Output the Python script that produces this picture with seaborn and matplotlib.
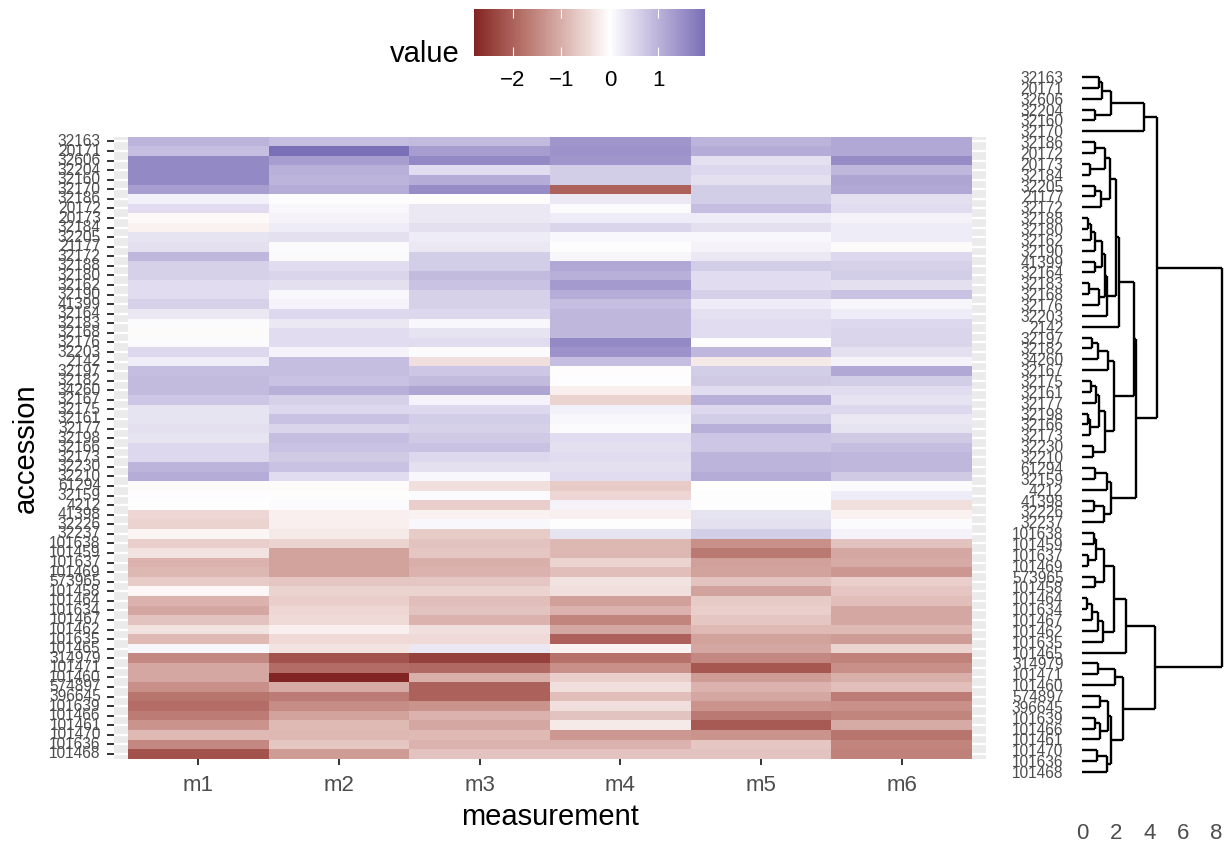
import numpy as np
import pandas as pd
import matplotlib
matplotlib.use("Agg")
import matplotlib.pyplot as plt
import seaborn as sns

plt.rcParams["font.family"] = ["Liberation Sans", "DejaVu Sans"]

# ---------------------------------------------------------------- data
accessions = [
    "32163", "20171", "32606", "32204", "32160", "32170", "32186", "20172",
    "20173", "32184", "32205", "21177", "32172", "32188", "32180", "32162",
    "32190", "41399", "32164", "32183", "32168", "32176", "32203", "2142",
    "32197", "32182", "34260", "32167", "32175", "32161", "32177", "32198",
    "32166", "32173", "32230", "32210", "61294", "32159", "4212", "41398",
    "32226", "32237", "101638", "101459", "101637", "101469", "573965",
    "101458", "101464", "101634", "101467", "101462", "101635", "101465",
    "314979", "101471", "101460", "574897", "396645", "101639", "101466",
    "101461", "101470", "101636", "101468",
]
measurements = ["m1", "m2", "m3", "m4", "m5", "m6"]

m1 = [1.0, 0.85, 1.6, 1.6, 1.6, 1.3, 0.2, 0.45, -0.08, -0.15,
      0.35, 0.4, 0.95, 0.6, 0.6, 0.45, 0.45, 0.6, 0.3, 0.05,
      -0.05, 0.05, 0.5, 0.25, 0.85, 0.9, 0.9, 0.75, 0.35, 0.35,
      0.4, 0.35, 0.5, 0.5, 1.0, 1.1, -0.05, 0.03, 0.01, -0.5,
      -0.55, -0.12, -0.6, -0.35, -0.95, -0.9, -0.65, -0.1, -0.95, -1.1,
      -0.75, -0.35, -0.85, 0.12, -1.5, -1.1, -1.1, -1.4, -1.75, -1.85,
      -1.65, -1.35, -0.85, -1.5, -2.2]
m2 = [0.85, 1.96, 1.3, 1.05, 1.0, 1.1, 0.02, 0.1, 0.15, 0.25,
      0.4, 0.05, 0.08, 0.45, 0.55, 0.4, 0.1, 0.15, 0.5, 0.3,
      0.45, 0.45, 0.15, 0.85, 0.85, 0.8, 1.05, 0.6, 0.5, 0.8,
      0.55, 0.85, 0.8, 0.7, 0.8, 0.45, -0.05, 0.02, 0.05, -0.2,
      -0.2, -0.25, -0.55, -1.15, -1.15, -1.15, -0.7, -0.55, -0.6, -0.5,
      -0.45, -0.2, -0.45, -0.35, -2.2, -1.85, -2.8, -1.05, -1.65, -1.45,
      -1.15, -0.85, -0.9, -0.7, -1.25]
m3 = [0.9, 1.3, 1.6, 0.45, 1.1, 1.55, -0.03, 0.3, 0.3, 0.4,
      0.25, 0.3, 0.65, 0.65, 0.9, 0.8, 0.6, 0.6, 0.5, 0.1,
      0.35, 0.45, 0.05, -0.4, 0.75, 0.9, 1.2, 0.15, 0.5, 0.65,
      0.6, 0.7, 0.8, 0.5, 0.4, 0.1, -0.4, 0.05, -0.6, -0.15,
      0.1, -0.65, -0.75, -0.7, -1.0, -0.95, -0.7, -0.55, -0.8, -0.75,
      -0.95, -0.4, -0.45, 0.3, -2.45, -1.9, -1.0, -2.0, -2.0, -1.35,
      -0.95, -1.1, -0.85, -0.95, -0.75]
m4 = [1.4, 1.45, 1.4, 0.65, 0.65, -2.0, 0.3, 0.05, 0.25, 0.55,
      0.1, 0.02, 0.12, 1.15, 1.05, 1.35, 1.1, 0.85, 0.95, 0.95,
      0.95, 1.6, 1.45, 0.85, -0.03, 0.03, -0.2, -0.55, 0.2, 0.1,
      0.07, 0.45, 0.4, 0.45, 0.4, 0.45, -0.65, -0.5, 0.15, -0.2,
      -0.02, 0.35, -0.9, -0.9, -0.55, -0.8, -0.35, -0.4, -1.2, -0.95,
      -1.55, -1.1, -2.0, -0.15, -1.8, -1.4, -0.6, -0.4, -0.8, -0.4,
      -0.75, -0.25, -1.3, -0.95, -0.75]
m5 = [1.0, 1.1, 0.4, 0.5, 0.4, 0.65, 0.65, 0.85, 0.25, 0.4,
      0.1, 0.15, 0.3, 0.65, 0.45, 0.45, 0.6, 0.25, 0.4, 0.45,
      0.45, 0.03, 0.95, -0.25, 0.65, 0.7, 0.45, 1.05, 0.5, 0.65,
      1.05, 0.75, 0.75, 1.0, 1.0, 1.1, 0.0, 0.02, -0.02, 0.35,
      0.4, 0.65, -1.4, -1.7, -1.2, -1.15, -0.75, -1.15, -0.65, -0.6,
      -0.7, -0.85, -1.15, -1.1, -1.5, -2.15, -1.25, -0.95, -1.1, -1.35,
      -1.7, -2.1, -1.35, -0.7, -0.75]
m6 = [1.15, 1.15, 1.55, 0.95, 1.2, 1.15, 0.4, 0.45, 0.15, 0.25,
      0.25, -0.05, 0.5, 0.6, 0.65, 0.4, 0.8, 0.12, 0.25, 0.5,
      0.55, 0.55, 0.4, 0.15, 1.15, 0.65, 0.45, 0.35, 0.5, 0.3,
      0.35, 0.7, 0.85, 0.95, 0.95, 0.7, 0.05, 0.25, -0.4, -0.15,
      0.07, 0.15, -0.75, -1.1, -1.05, -1.3, -0.6, -0.7, -0.8, -1.1,
      -1.1, -0.85, -1.25, -0.55, -1.6, -1.4, -1.0, -0.8, -1.65, -1.4,
      -1.55, -1.05, -1.75, -1.55, -1.6]

# hierarchical clustering of the accessions: (node, left, right, height)
merges = [
    ("n1", "32163", "20171", 1.00), ("n2", "n1", "32606", 1.21),
    ("n3", "32204", "32160", 0.80), ("n4", "n2", "n3", 1.71),
    ("n5", "n4", "32170", 3.70),
    ("n6", "32186", "20172", 0.80), ("n7", "20173", "32184", 0.46),
    ("n8", "n6", "n7", 1.39), ("n9", "32205", "21177", 0.80),
    ("n10", "n9", "32172", 1.15), ("n11", "n8", "n10", 1.65),
    ("n12", "32188", "32180", 0.38), ("n13", "n12", "32162", 0.52),
    ("n14", "n13", "32190", 0.80), ("n15", "41399", "32164", 0.80),
    ("n16", "n14", "n15", 1.19), ("n17", "32183", "32168", 0.44),
    ("n18", "n17", "32176", 1.00), ("n19", "n16", "n18", 1.36),
    ("n20", "n19", "32203", 1.46), ("n21", "n11", "n20", 2.01),
    ("n22", "n21", "2142", 2.21),
    ("n23", "32197", "32182", 0.60), ("n24", "n23", "34260", 0.96),
    ("n25", "n24", "32167", 1.55), ("n26", "32175", "32161", 0.56),
    ("n27", "n26", "32177", 0.86), ("n28", "32198", "32166", 0.36),
    ("n29", "n28", "32173", 0.46), ("n30", "n27", "n29", 1.00),
    ("n31", "32230", "32210", 0.66), ("n32", "n30", "n31", 1.35),
    ("n33", "n25", "n32", 1.91), ("n34", "n22", "n33", 3.10),
    ("n35", "61294", "32159", 0.76), ("n36", "n35", "4212", 1.51),
    ("n37", "41398", "32226", 0.72), ("n38", "n37", "32237", 1.31),
    ("n39", "n36", "n38", 1.75), ("n40", "n34", "n39", 3.20),
    ("n41", "n5", "n40", 4.44),
    ("n42", "101638", "101459", 0.72), ("n43", "101637", "101469", 0.36),
    ("n44", "n42", "n43", 0.86), ("n45", "573965", "101458", 0.80),
    ("n46", "n44", "n45", 1.31), ("n47", "101464", "101634", 0.32),
    ("n48", "n47", "101467", 0.60), ("n49", "n48", "101462", 0.95),
    ("n50", "n49", "101635", 1.25), ("n51", "n46", "n50", 1.91),
    ("n52", "n51", "101465", 2.59),
    ("n53", "314979", "101471", 0.96), ("n54", "n53", "101460", 1.99),
    ("n55", "574897", "396645", 1.06), ("n56", "101639", "101466", 0.80),
    ("n57", "n56", "101461", 1.06), ("n58", "n55", "n57", 1.55),
    ("n59", "101470", "101636", 0.92), ("n60", "n59", "101468", 1.49),
    ("n61", "n58", "n60", 1.71), ("n62", "n54", "n61", 2.41),
    ("n63", "n52", "n62", 4.34),
    ("n64", "n41", "n63", 8.32),
]
dendro_ticks = [0, 2, 4, 6, 8]

# ---------------------------------------------------------------- colours
# diverging ramp interpolated in CIE Lab: muted red -> white -> muted blue
_M = np.array([[0.4124, 0.3576, 0.1805],
               [0.2126, 0.7152, 0.0722],
               [0.0193, 0.1192, 0.9505]])
_WHITE = np.array([0.95047, 1.0, 1.08883])


def to_lab(hexcol):
    rgb = np.array(matplotlib.colors.to_rgb(hexcol))
    lin = np.where(rgb <= 0.04045, rgb / 12.92, ((rgb + 0.055) / 1.055) ** 2.4)
    xyz = _M @ lin / _WHITE
    d = 6 / 29
    f = np.where(xyz > d ** 3, np.cbrt(xyz), xyz / (3 * d * d) + 4 / 29)
    return np.array([116 * f[1] - 16, 500 * (f[0] - f[1]), 200 * (f[1] - f[2])])


def from_lab(lab):
    L, a, b = lab
    fy = (L + 16) / 116
    f = np.array([fy + a / 500, fy, fy - b / 200])
    d = 6 / 29
    xyz = np.where(f > d, f ** 3, 3 * d * d * (f - 4 / 29)) * _WHITE
    lin = np.clip(np.linalg.solve(_M, xyz), 0, 1)
    rgb = np.where(lin <= 0.0031308, 12.92 * lin, 1.055 * lin ** (1 / 2.4) - 0.055)
    return np.clip(rgb, 0, 1)


low, mid, high = to_lab("#832424"), to_lab("#FFFFFF"), to_lab("#3A3A98")
ramp = []
for t in np.linspace(0, 1, 511):
    if t <= 0.5:
        lab = low + (mid - low) * (t / 0.5)
    else:
        lab = mid + (high - mid) * ((t - 0.5) / 0.5)
    ramp.append(from_lab(lab))
cmap = matplotlib.colors.ListedColormap(ramp)

df = pd.DataFrame({"m1": m1, "m2": m2, "m3": m3, "m4": m4, "m5": m5, "m6": m6},
                  index=accessions)[measurements]
vals = df.to_numpy()
lim = np.abs(vals).max()
norm = matplotlib.colors.Normalize(-lim, lim)

# ---------------------------------------------------------------- figure
W, H = 1225, 843
fig = plt.figure(figsize=(W / 100, H / 100), dpi=100)


def px_axes(x0, y0, x1, y1):
    return fig.add_axes([x0 / W, 1 - y1 / H, (x1 - x0) / W, (y1 - y0) / H])


grey_text = "#4D4D4D"
row_label_size = 11.2

# heatmap panel
ax = px_axes(114, 136.7, 986, 758.7)
sns.heatmap(df, ax=ax, cmap=cmap, vmin=-lim, vmax=lim, cbar=False,
            xticklabels=True, yticklabels=True, linewidths=0)
ax.set_xlim(-0.1, len(measurements) + 0.1)
ax.set_facecolor("#EBEBEB")
ax.set_axisbelow(True)
ax.yaxis.grid(True, color="white", linewidth=1.6)
ax.xaxis.grid(False)
for s in ax.spines.values():
    s.set_visible(False)
ax.tick_params(axis="y", length=5, width=1.4, color="#333333", pad=4.5,
               labelsize=row_label_size, labelcolor=grey_text, rotation=0)
ax.tick_params(axis="x", length=4, width=1.4, color="#333333", pad=8,
               labelsize=16, labelcolor=grey_text, rotation=0)
ax.set_xlabel("measurement", fontsize=21, labelpad=5)
ax.set_ylabel("accession", fontsize=21, labelpad=6.5)

# colour bar legend
cax = px_axes(474, 9.3, 705, 55.7)
lo, hi = vals.min(), vals.max()
grad = np.linspace(lo, hi, 400)[None, :]
cax.imshow(grad, cmap=cmap, norm=norm, aspect="auto",
           extent=[lo, hi, 0, 1], interpolation="bilinear")
cax.set_xlim(lo, hi)
cax.set_ylim(0, 1)
cax.set_yticks([])
cax.set_xticks([-2, -1, 0, 1])
cax.set_xticklabels(["\u22122", "\u22121", "0", "1"])
cax.tick_params(axis="x", direction="in", top=True, bottom=True,
                color="white", length=6.5, width=0.8, pad=10,
                labelsize=16, labelcolor="black")
for s in cax.spines.values():
    s.set_visible(False)
fig.text(460 / W, 1 - 61.7 / H, "value", fontsize=21, ha="right", va="baseline")

# dendrogram panel
dax = px_axes(1075.3, 42.2, 1229, 806.8)
ypos = {name: i + 1 for i, name in enumerate(accessions)}
hpos = {name: 0.0 for name in accessions}
seg = dict(color="black", lw=1.7, solid_capstyle="butt")
for node, left, right, h in merges:
    yl, yr = ypos[left], ypos[right]
    dax.plot([h, h], [yl, yr], **seg)
    dax.plot([hpos[left], h], [yl, yl], **seg)
    dax.plot([hpos[right], h], [yr, yr], **seg)
    ypos[node] = (yl + yr) / 2
    hpos[node] = h
dax.set_xlim(-0.4, 8.75)
dax.set_ylim(len(accessions) + 3.2, 1 - 3.2)
dax.set_yticks(range(1, len(accessions) + 1))
dax.set_yticklabels(accessions)
dax.set_xticks(dendro_ticks)
dax.tick_params(axis="y", length=0, pad=8.5, labelsize=row_label_size,
                labelcolor=grey_text)
dax.tick_params(axis="x", length=0, pad=12, labelsize=16, labelcolor=grey_text)
for s in dax.spines.values():
    s.set_visible(False)
dax.set_facecolor("none")

fig.savefig("out.png", dpi=100, facecolor="white")
